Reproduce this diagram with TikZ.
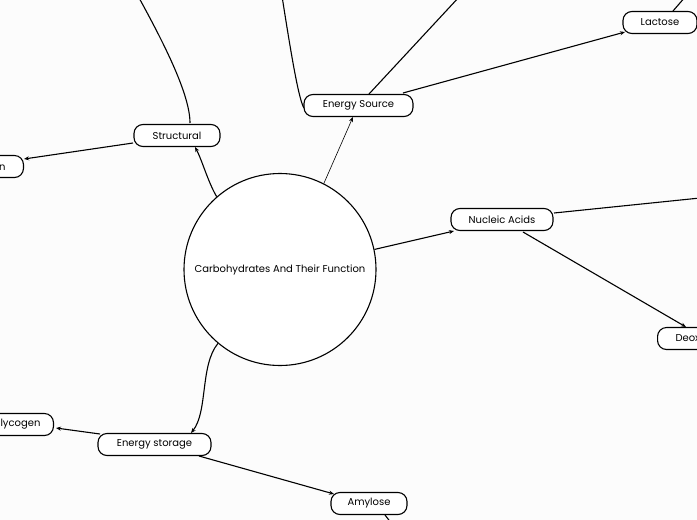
\documentclass[tikz,border=0pt]{standalone}
\usepackage{fontspec}
\setmainfont{Poppins}
\usetikzlibrary{arrows.meta}
\begin{document}
\begin{tikzpicture}[x=1pt,y=-1pt,
  topic/.style={draw, line width=1.1pt, rounded corners=9pt, minimum height=22pt, inner sep=0pt, font=\fontsize{10}{11}\selectfont, fill=white},
  link/.style={line width=1.1pt, -{Stealth[length=5pt,width=4pt]}},
  plain/.style={line width=1.1pt},
  thinlink/.style={line width=0.6pt, -{Stealth[length=5pt,width=4pt]}}]
\useasboundingbox (0,0) rectangle (697,520);
\fill[white!99!black] (0,0) rectangle (697,520);
\clip (0,0) rectangle (697,520);
% central topic
\node[draw, circle, line width=1.1pt, minimum size=192pt, inner sep=0pt, font=\fontsize{10}{11}\selectfont, fill=white] (circ) at (280,269.5) {Carbohydrates And Their Function};
% main branches
\node[topic, minimum width=86pt] (struct) at (177,135.5) {Structural};
\node[topic, minimum width=109pt] (esrc) at (358.5,105.5) {Energy Source};
\node[topic, minimum width=102pt] (nucl) at (502,219.5) {Nucleic Acids};
\node[topic, minimum width=113pt] (estor) at (154.5,444.5) {Energy storage};
% sub topics
\node[topic, anchor=east, text width=60pt, align=right, inner xsep=18pt] (chitin) at (24,166.5) {Chitin};
\node[topic, minimum width=74pt] (lact) at (660,22.5) {Lactose};
\node[topic, anchor=west, text width=80pt, align=left, inner xsep=18pt] (deox) at (657,338.5) {Deoxyribose};
\node[topic, anchor=east, text width=60pt, align=right, inner xsep=13pt] (glyc) at (54,424.5) {Glycogen};
\node[topic, minimum width=76pt] (amyl) at (369,503.5) {Amylose};
% off-frame ends
\coordinate (offA) at (138,-4);
\coordinate (offB) at (282,-4);
\coordinate (offC) at (460,-4);
\coordinate (offD) at (686,-4);
\coordinate (offE) at (700,198);
\coordinate (offF) at (392,524);
% connectors from the centre
\draw[link] (circ.131) .. controls (208,182) and (202,160) .. (195,147);
\draw[thinlink] (circ.63) -- (353,117);
\draw[link] (circ.12) -- (454,231);
\draw[link] (circ.230) .. controls (200,365) and (208,412) .. (191,433);
% structural
\draw[plain] (190,123) .. controls (190,95) and (165,45) .. (offA);
\draw[link] (133,143) -- (chitin.east |- 0,159);
% energy source
\draw[plain] (304,108) .. controls (299,100) and (292,60) .. (offB);
\draw[plain] (369,94) -- (offC);
\draw[link] (403,93) -- (625,32);
\draw[plain] (673,11) -- (offD);
% nucleic acids
\draw[plain] (554,213) -- (offE);
\draw[link] (523,232) -- (686,327);
% energy storage
\draw[link] (100,434) -- (56,428);
\draw[link] (199,456) -- (334,494);
\draw[plain] (385,515) -- (offF);
\end{tikzpicture}
\end{document}
